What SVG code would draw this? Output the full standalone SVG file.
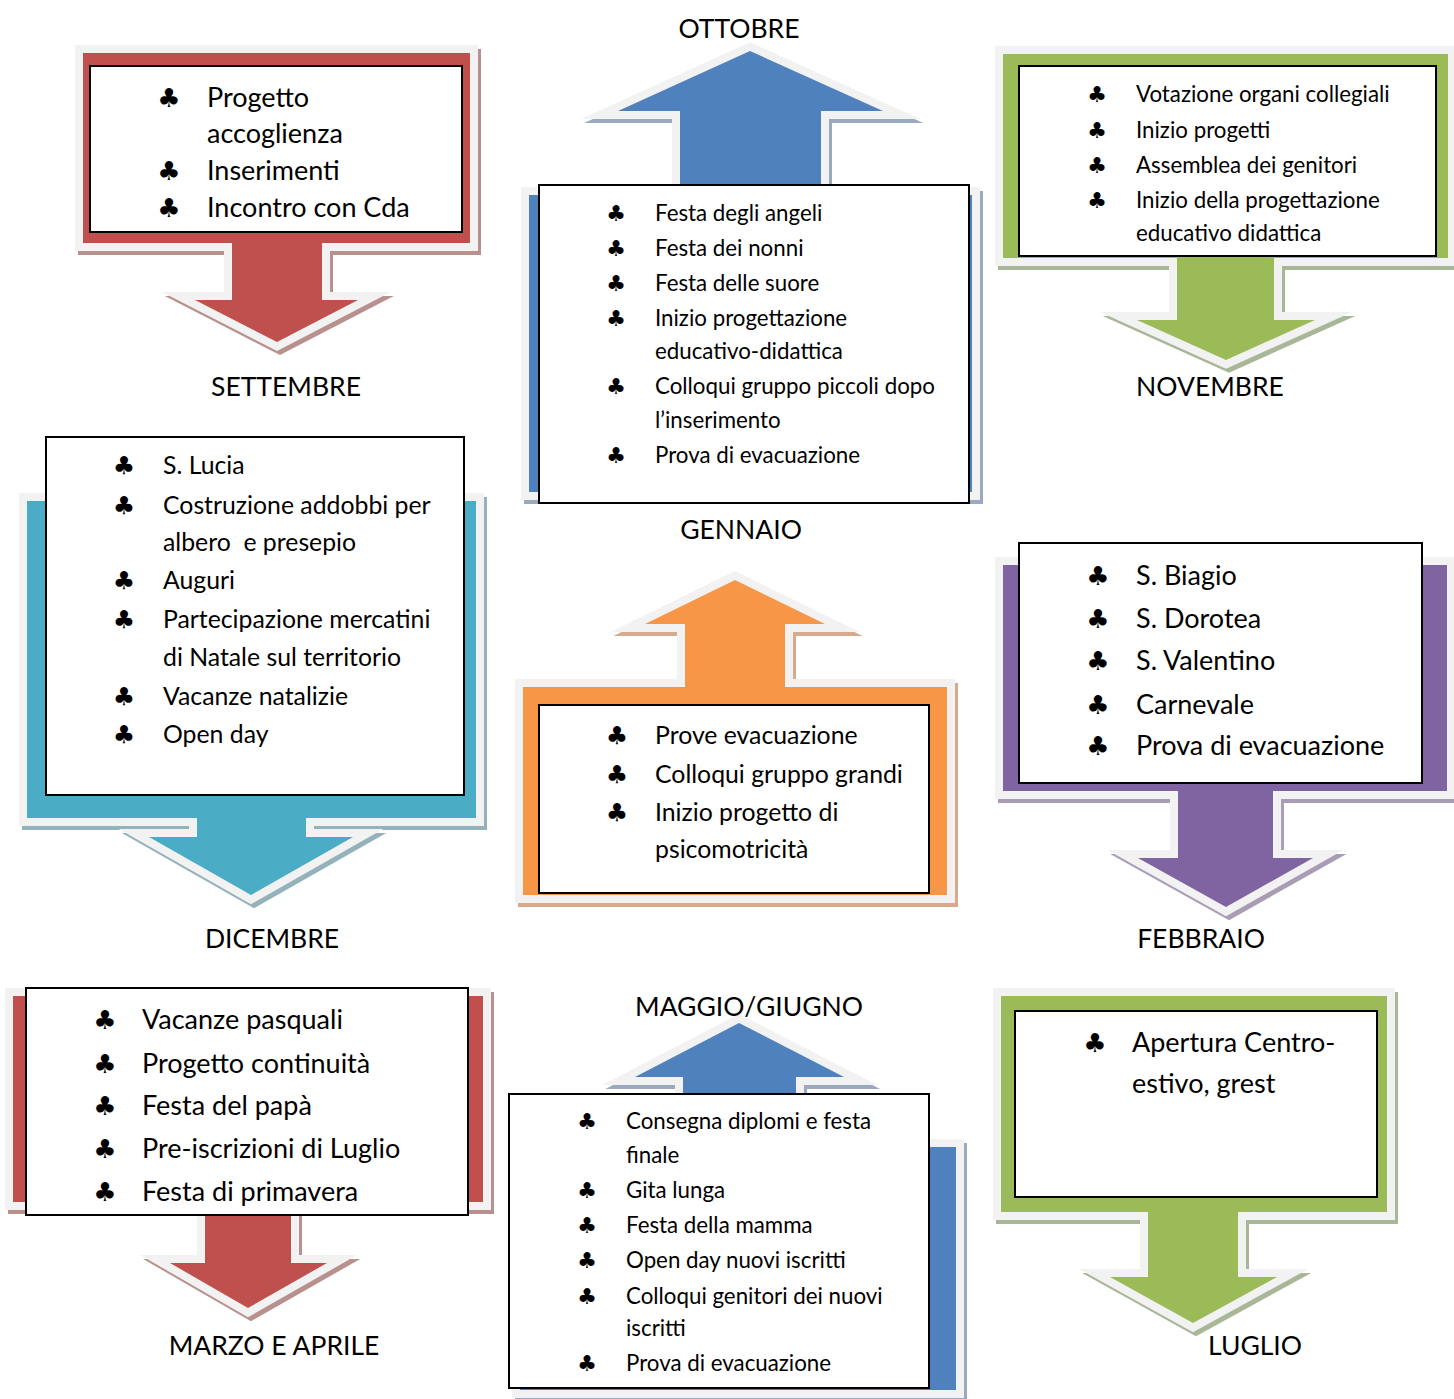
<svg xmlns="http://www.w3.org/2000/svg" xmlns:xlink="http://www.w3.org/1999/xlink" width="1454" height="1399" viewBox="0 0 1454 1399">
<style>
  .ol { fill:#f2f2f2; stroke:#f2f2f2; stroke-width:16; stroke-linejoin:miter; stroke-miterlimit:10; }
  .sh { stroke-width:16; stroke-linejoin:miter; stroke-miterlimit:10; }
  .red { fill:#c0504d; } .sh-red { fill:#b8908e; stroke:#b8908e; }
  .blue { fill:#4f81bd; } .sh-blue { fill:#9aa9bd; stroke:#9aa9bd; }
  .green { fill:#9bbb59; } .sh-green { fill:#a9b697; stroke:#a9b697; }
  .teal { fill:#4bacc6; } .sh-teal { fill:#93b2ba; stroke:#93b2ba; }
  .orange { fill:#f79646; } .sh-orange { fill:#d6aa8a; stroke:#d6aa8a; }
  .purple { fill:#8064a2; } .sh-purple { fill:#a99db5; stroke:#a99db5; }
  .box { fill:#ffffff; stroke:#000000; stroke-width:2; }
  text { font-family:Lato, "Liberation Sans", sans-serif; fill:#000000; }
  .club { font-family:"DejaVu Sans", sans-serif; text-anchor:middle; }
  .lbl { font-size:26.5px; text-anchor:middle; }
  .s1 { font-size:27px; } .s2 { font-size:22.3px; } .s4 { font-size:24.8px; } .s6 { font-size:27px; }
  .c1 { font-size:26px; } .c2 { font-size:22px; } .c4 { font-size:25px; } .c6 { font-size:26px; }
</style>
<defs>
  <path id="p1" d="M83,53 H470 V243 H322 V300 H358 L277,342 L195,300 H232 V243 H83 Z"/>
  <path id="p2" d="M529,195 H680 V111 H618 L750,51 L883,111 H821 V195 H972 V492 H529 Z"/>
  <path id="p3" d="M1003,54 H1448 V258 H1274 V320 H1315 L1226,360 L1137,320 H1177 V258 H1003 Z"/>
  <path id="p4" d="M27,501 H476 V818 H306 V837 H353 L251,895 L149,837 H197 V818 H27 Z"/>
  <path id="p5" d="M523,687 H685 V624 H645 L735,580 L825,624 H785 V687 H947 V895 H523 Z"/>
  <path id="p6" d="M1003,565 H1447 V791 H1273 V858 H1313 L1226,907 L1138,858 H1178 V791 H1003 Z"/>
  <path id="p7" d="M13,996 H483 V1202 H291 V1263 H327 L248,1308 L170,1263 H205 V1202 H13 Z"/>
  <path id="p8" d="M520,1147 H683 V1077 H635 L739,1023 L844,1077 H796 V1147 H956 V1390 H520 Z"/>
  <path id="p9" d="M1001,996 H1387 V1212 H1238 V1277 H1277 L1193,1323 L1110,1277 H1148 V1212 H1001 Z"/>
</defs>
<rect width="1454" height="1399" fill="#ffffff"/>

<g id="settembre">
  <use xlink:href="#p1" class="sh sh-red" transform="translate(3,4)"/>
  <use xlink:href="#p1" class="ol"/>
  <use xlink:href="#p1" class="red"/>
  <rect class="box" x="90" y="66" width="372" height="166"/>
  <text class="club c1" x="169" y="107">♣</text><text class="s1" x="207" y="107">Progetto</text>
  <text class="s1" x="207" y="143">accoglienza</text>
  <text class="club c1" x="169" y="180">♣</text><text class="s1" x="207" y="180">Inserimenti</text>
  <text class="club c1" x="169" y="217">♣</text><text class="s1" x="207" y="217">Incontro con Cda</text>
  <text class="lbl" x="286" y="396">SETTEMBRE</text>
</g>

<g id="ottobre">
  <use xlink:href="#p2" class="sh sh-blue" transform="translate(3,4)"/>
  <use xlink:href="#p2" class="ol"/>
  <use xlink:href="#p2" class="blue"/>
  <rect class="box" x="539" y="185" width="430" height="318"/>
  <text class="club c2" x="616" y="221">♣</text><text class="s2" x="655" y="221">Festa degli angeli</text>
  <text class="club c2" x="616" y="256">♣</text><text class="s2" x="655" y="256">Festa dei nonni</text>
  <text class="club c2" x="616" y="291">♣</text><text class="s2" x="655" y="291">Festa delle suore</text>
  <text class="club c2" x="616" y="326">♣</text><text class="s2" x="655" y="326">Inizio progettazione</text>
  <text class="s2" x="655" y="359">educativo-didattica</text>
  <text class="club c2" x="616" y="394">♣</text><text class="s2" x="655" y="394">Colloqui gruppo piccoli dopo</text>
  <text class="s2" x="655" y="428">l’inserimento</text>
  <text class="club c2" x="616" y="463">♣</text><text class="s2" x="655" y="463">Prova di evacuazione</text>
  <text class="lbl" x="739" y="38">OTTOBRE</text>
</g>

<g id="novembre">
  <use xlink:href="#p3" class="sh sh-green" transform="translate(3,4)"/>
  <use xlink:href="#p3" class="ol"/>
  <use xlink:href="#p3" class="green"/>
  <rect class="box" x="1019" y="66" width="417" height="190"/>
  <text class="club c2" x="1097" y="102">♣</text><text class="s2" x="1136" y="102">Votazione organi collegiali</text>
  <text class="club c2" x="1097" y="138">♣</text><text class="s2" x="1136" y="138">Inizio progetti</text>
  <text class="club c2" x="1097" y="173">♣</text><text class="s2" x="1136" y="173">Assemblea dei genitori</text>
  <text class="club c2" x="1097" y="208">♣</text><text class="s2" x="1136" y="208">Inizio della progettazione</text>
  <text class="s2" x="1136" y="241">educativo didattica</text>
  <text class="lbl" x="1210" y="396">NOVEMBRE</text>
</g>

<g id="dicembre">
  <use xlink:href="#p4" class="sh sh-teal" transform="translate(3,4)"/>
  <use xlink:href="#p4" class="ol"/>
  <use xlink:href="#p4" class="teal"/>
  <rect class="box" x="46" y="437" width="418" height="358"/>
  <text class="club c4" x="124" y="474">♣</text><text class="s4" x="163" y="474">S. Lucia</text>
  <text class="club c4" x="124" y="514">♣</text><text class="s4" x="163" y="514">Costruzione addobbi per</text>
  <text class="s4" x="163" y="551" xml:space="preserve">albero  e presepio</text>
  <text class="club c4" x="124" y="589">♣</text><text class="s4" x="163" y="589">Auguri</text>
  <text class="club c4" x="124" y="628">♣</text><text class="s4" x="163" y="628">Partecipazione mercatini</text>
  <text class="s4" x="163" y="666">di Natale sul territorio</text>
  <text class="club c4" x="124" y="705">♣</text><text class="s4" x="163" y="705">Vacanze natalizie</text>
  <text class="club c4" x="124" y="743">♣</text><text class="s4" x="163" y="743">Open day</text>
  <text class="lbl" x="272" y="948">DICEMBRE</text>
</g>

<g id="gennaio">
  <use xlink:href="#p5" class="sh sh-orange" transform="translate(3,4)"/>
  <use xlink:href="#p5" class="ol"/>
  <use xlink:href="#p5" class="orange"/>
  <rect class="box" x="539" y="705" width="390" height="188"/>
  <text class="club c4" x="617" y="744">♣</text><text class="s4" x="655" y="744">Prove evacuazione</text>
  <text class="club c4" x="617" y="783">♣</text><text class="s4" x="655" y="783">Colloqui gruppo grandi</text>
  <text class="club c4" x="617" y="821">♣</text><text class="s4" x="655" y="821">Inizio progetto di</text>
  <text class="s4" x="655" y="858">psicomotricità</text>
  <text class="lbl" x="741" y="539">GENNAIO</text>
</g>

<g id="febbraio">
  <use xlink:href="#p6" class="sh sh-purple" transform="translate(3,4)"/>
  <use xlink:href="#p6" class="ol"/>
  <use xlink:href="#p6" class="purple"/>
  <rect class="box" x="1019" y="543" width="403" height="240"/>
  <text class="club c6" x="1098" y="585">♣</text><text class="s6" x="1136" y="585">S. Biagio</text>
  <text class="club c6" x="1098" y="628">♣</text><text class="s6" x="1136" y="628">S. Dorotea</text>
  <text class="club c6" x="1098" y="670">♣</text><text class="s6" x="1136" y="670">S. Valentino</text>
  <text class="club c6" x="1098" y="714">♣</text><text class="s6" x="1136" y="714">Carnevale</text>
  <text class="club c6" x="1098" y="755">♣</text><text class="s6" x="1136" y="755">Prova di evacuazione</text>
  <text class="lbl" x="1201" y="948">FEBBRAIO</text>
</g>

<g id="marzo-aprile">
  <use xlink:href="#p7" class="sh sh-red" transform="translate(3,4)"/>
  <use xlink:href="#p7" class="ol"/>
  <use xlink:href="#p7" class="red"/>
  <rect class="box" x="26" y="988" width="442" height="227"/>
  <text class="club c6" x="105" y="1029">♣</text><text class="s6" x="142" y="1029">Vacanze pasquali</text>
  <text class="club c6" x="105" y="1073">♣</text><text class="s6" x="142" y="1073">Progetto continuità</text>
  <text class="club c6" x="105" y="1115">♣</text><text class="s6" x="142" y="1115">Festa del papà</text>
  <text class="club c6" x="105" y="1158">♣</text><text class="s6" x="142" y="1158">Pre-iscrizioni di Luglio</text>
  <text class="club c6" x="105" y="1201">♣</text><text class="s6" x="142" y="1201">Festa di primavera</text>
  <text class="lbl" x="274" y="1355">MARZO E APRILE</text>
</g>

<g id="maggio-giugno">
  <use xlink:href="#p8" class="sh sh-blue" transform="translate(3,4)"/>
  <use xlink:href="#p8" class="ol"/>
  <use xlink:href="#p8" class="blue"/>
  <rect class="box" x="509" y="1094" width="420" height="294"/>
  <text class="club c2" x="587" y="1129">♣</text><text class="s2" x="626" y="1129">Consegna diplomi e festa</text>
  <text class="s2" x="626" y="1163">finale</text>
  <text class="club c2" x="587" y="1198">♣</text><text class="s2" x="626" y="1198">Gita lunga</text>
  <text class="club c2" x="587" y="1233">♣</text><text class="s2" x="626" y="1233">Festa della mamma</text>
  <text class="club c2" x="587" y="1268">♣</text><text class="s2" x="626" y="1268">Open day nuovi iscritti</text>
  <text class="club c2" x="587" y="1304">♣</text><text class="s2" x="626" y="1304">Colloqui genitori dei nuovi</text>
  <text class="s2" x="626" y="1336">iscritti</text>
  <text class="club c2" x="587" y="1371">♣</text><text class="s2" x="626" y="1371">Prova di evacuazione</text>
  <text class="lbl" x="749" y="1016">MAGGIO/GIUGNO</text>
</g>

<g id="luglio">
  <use xlink:href="#p9" class="sh sh-green" transform="translate(3,4)"/>
  <use xlink:href="#p9" class="ol"/>
  <use xlink:href="#p9" class="green"/>
  <rect class="box" x="1015" y="1011" width="362" height="186"/>
  <text class="club c6" x="1095" y="1052">♣</text><text class="s6" x="1132" y="1052">Apertura Centro-</text>
  <text class="s6" x="1132" y="1093">estivo, grest</text>
  <text class="lbl" x="1255" y="1355">LUGLIO</text>
</g>

<g id="connectors"></g>
</svg>
